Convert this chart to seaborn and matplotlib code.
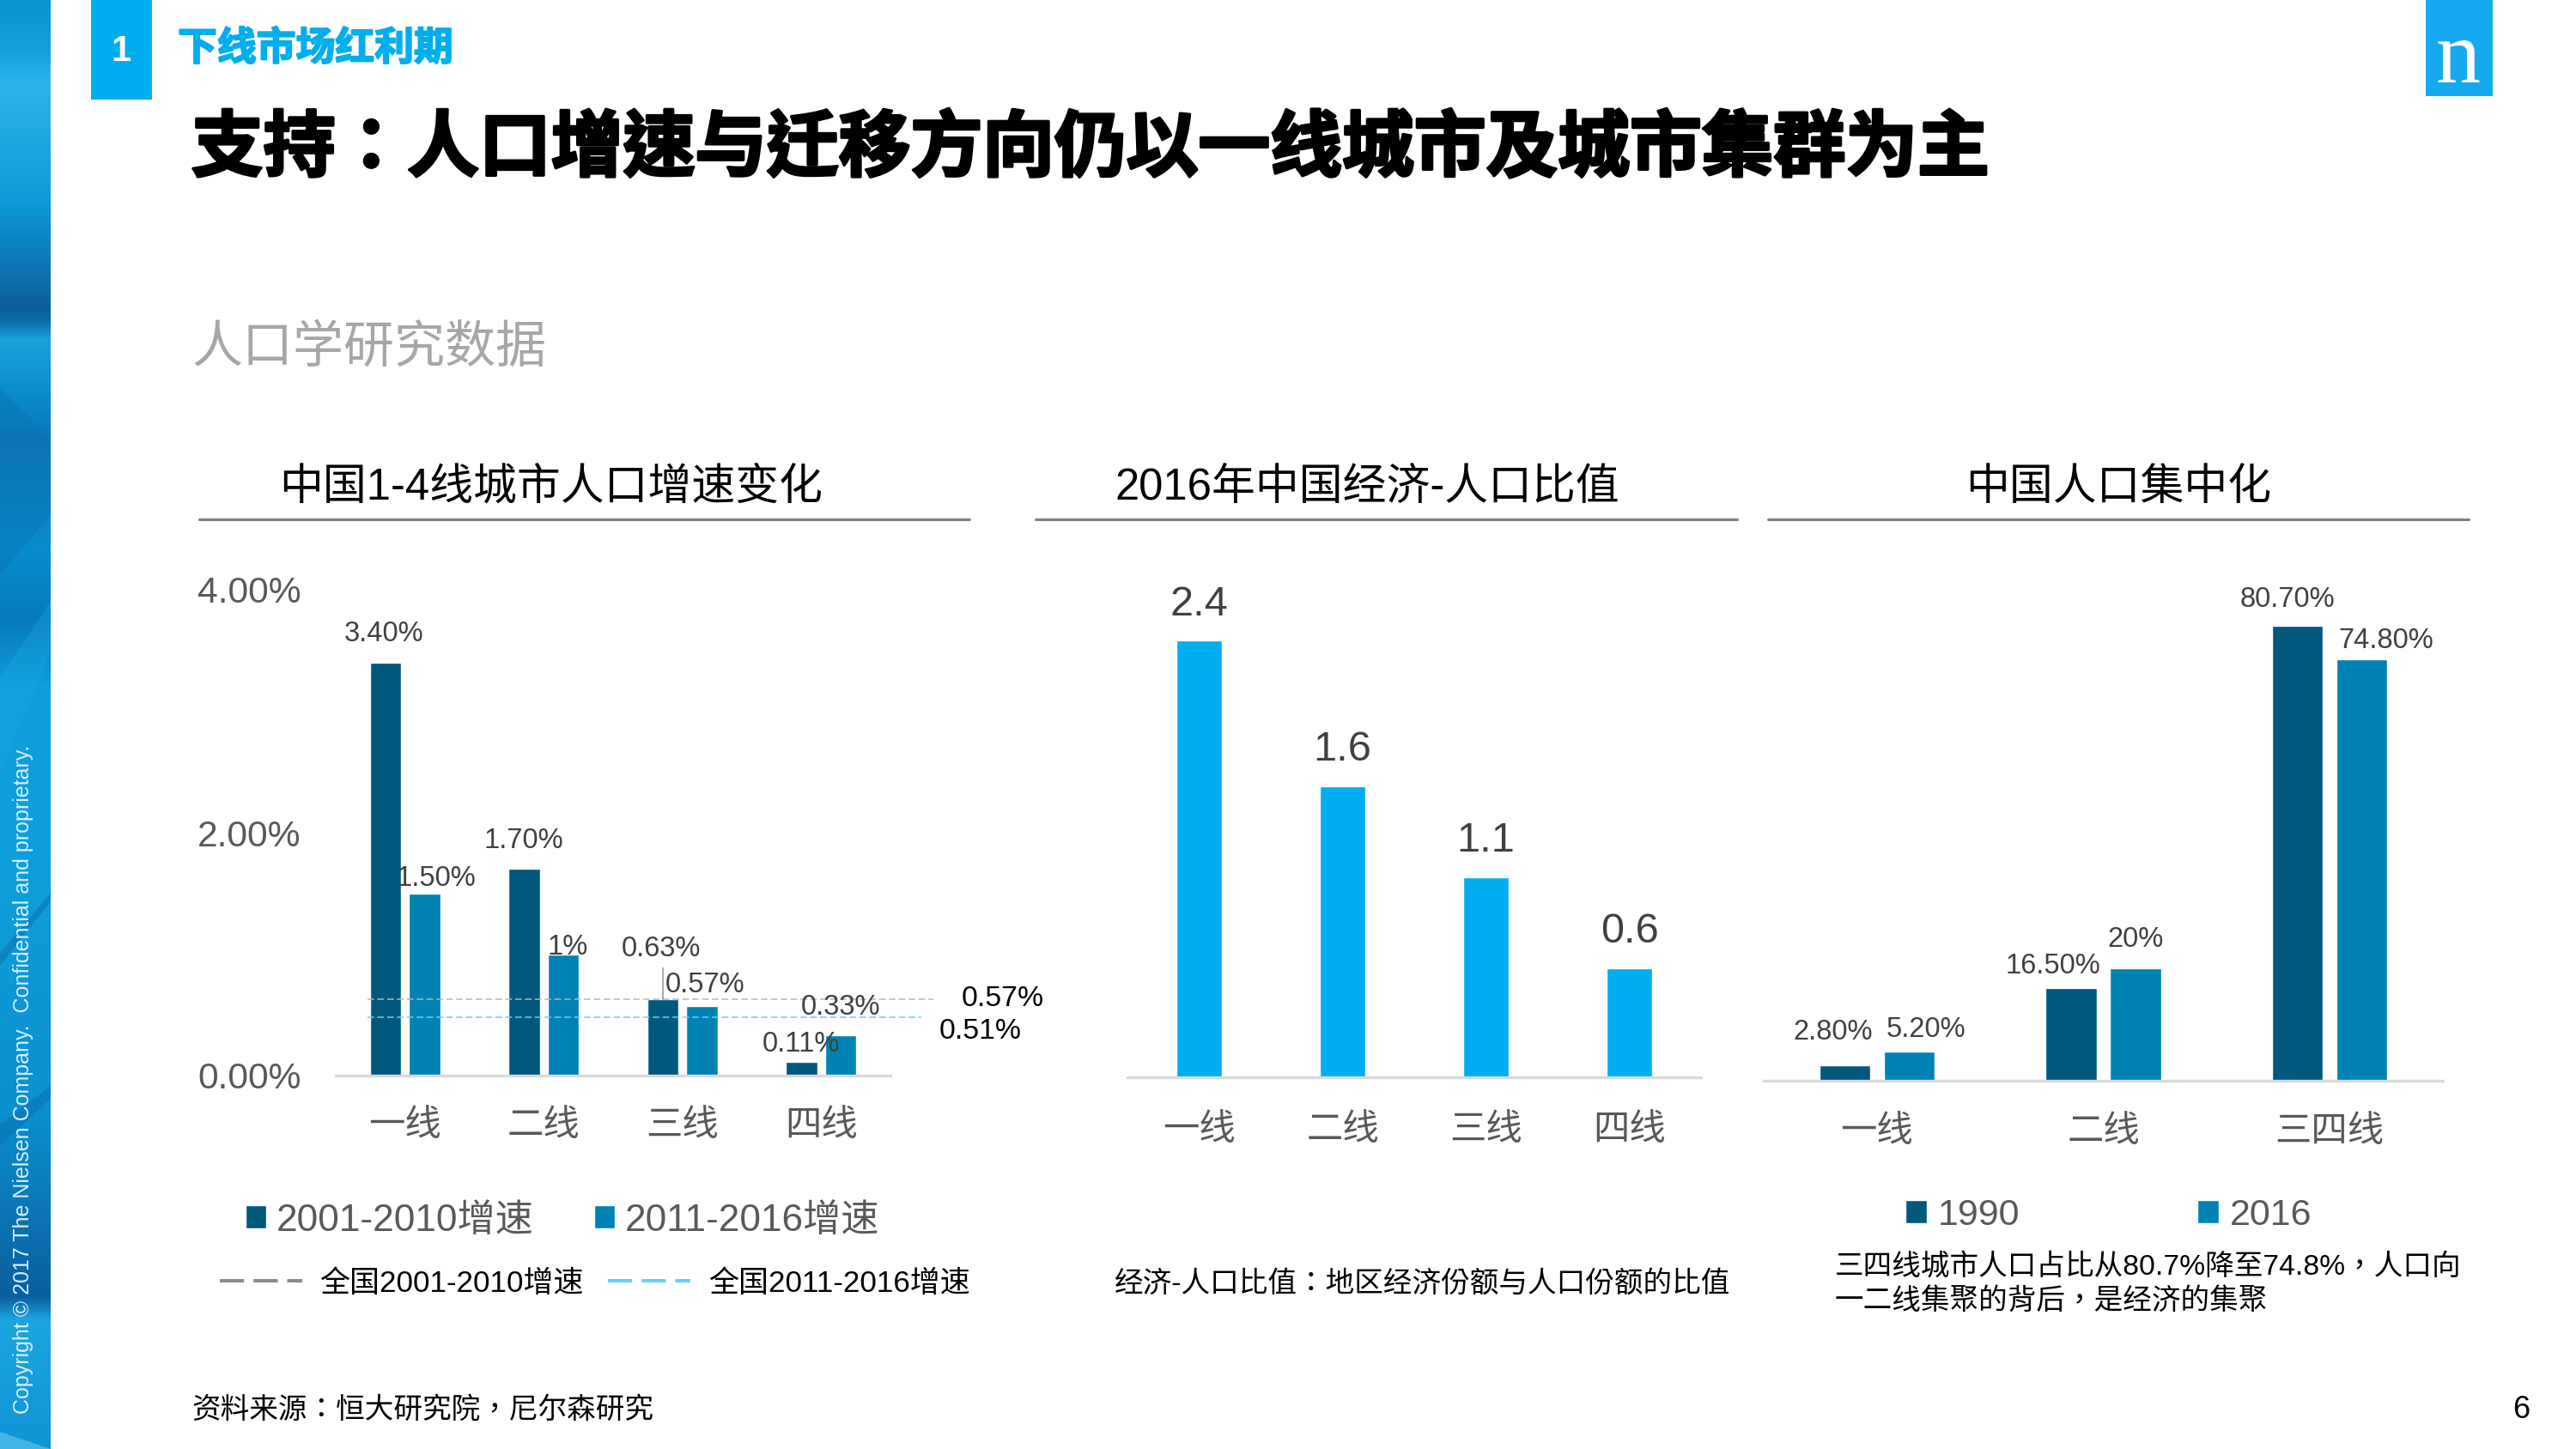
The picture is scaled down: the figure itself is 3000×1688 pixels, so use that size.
import numpy as np
import pandas as pd
import matplotlib
matplotlib.use("Agg")
import matplotlib.pyplot as plt
import matplotlib.patheffects as pe
from matplotlib.patches import Patch, Rectangle, Polygon
from matplotlib.lines import Line2D
import seaborn as sns

# ---------- data ----------
tiers4 = ["一线", "二线", "三线", "四线"]
tiers3 = ["一线", "二线", "三四线"]
growth_series = ["2001-2010增速", "2011-2016增速"]
growth_2001_2010 = [3.40, 1.70, 0.63, 0.11]
growth_2011_2016 = [1.50, 1.00, 0.57, 0.33]
growth_labels_a = ["3.40%", "1.70%", "0.63%", "0.11%"]
growth_labels_b = ["1.50%", "1%", "0.57%", "0.33%"]
growth_ticks = [0, 2, 4]
growth_ticklabels = ["0.00%", "2.00%", "4.00%"]
national_levels = [0.63, 0.48]
national_labels = ["0.57%", "0.51%"]
national_names = ["全国2001-2010增速", "全国2011-2016增速"]
ratio_values = [2.4, 1.6, 1.1, 0.6]
ratio_labels = ["2.4", "1.6", "1.1", "0.6"]
share_series = ["1990", "2016"]
share_1990 = [2.8, 16.5, 80.7]
share_2016 = [5.2, 20.0, 74.8]
share_labels_a = ["2.80%", "16.50%", "80.70%"]
share_labels_b = ["5.20%", "20%", "74.80%"]

# ---------- style ----------
DARK, MID, CYAN = "#00587c", "#0082b4", "#00aeef"
TICK, VAL = "#595959", "#404040"
LATIN_SC = ["Liberation Sans", "Noto Sans CJK SC"]
LATIN_TC = ["Liberation Sans", "Noto Sans CJK TC"]

sns.set_theme(style="white")
plt.rcParams["font.family"] = LATIN_SC
plt.rcParams["axes.unicode_minus"] = False

W, H = 3000, 1688
fig = plt.figure(figsize=(W / 100, H / 100), dpi=100, facecolor="white")


def txt(x, y, s, size, color="black", ha="left", va="center", **kw):
    return fig.text(x / W, 1 - y / H, s, fontsize=size, color=color, ha=ha, va=va, **kw)


def box(l, t, r, b):
    return fig.add_axes([l / W, 1 - b / H, (r - l) / W, (b - t) / H])


def frame(ax, n, ymax, pad):
    ax.set_xlim(-0.5, n - 0.5)
    ax.set_ylim(0, ymax)
    ax.set_xlabel("")
    ax.set_ylabel("")
    ax.patch.set_alpha(0)
    for k in ("top", "left", "right"):
        ax.spines[k].set_visible(False)
    ax.spines["bottom"].set_color("#d9d9d9")
    ax.spines["bottom"].set_linewidth(2.4)
    ax.tick_params(axis="x", length=0, pad=pad, labelsize=30.5, labelcolor=TICK)
    ax.tick_params(axis="y", length=0)
    ax.grid(False)


def note(ax, x, y, s, dx, dy, size=23.5, color=VAL):
    ax.annotate(s, xy=(x, y), xytext=(dx, dy - 4), textcoords="offset pixels",
                ha="center", va="center", fontsize=size, color=color, annotation_clip=False)


# ---------- left strip ----------
strip = fig.add_axes([0, 0, 59 / W, 1])
stops_y = [0, 55, 95, 230, 360, 373, 395, 445, 510, 640, 720, 800, 1000, 1300, 1510, 1537, 1688]
stops_c = ["#0c94d3", "#129fdc", "#2db3ea", "#0f9bdb", "#0b5f9b", "#0b6aa8", "#1ba2de", "#0e90cf",
           "#0a78bb", "#0a8cd0", "#0979be", "#0f9ede", "#0f9fdd", "#0c8fd0", "#0a5f9e", "#1ca5e1", "#1094d6"]
rgb = np.array([matplotlib.colors.to_rgb(c) for c in stops_c])
ys = np.arange(H)
grad = np.stack([np.interp(ys, stops_y, rgb[:, i]) for i in range(3)], axis=1)[:, None, :]
strip.imshow(grad, aspect="auto", extent=(0, 59, H, 0), interpolation="bilinear")
for pts, col, a in [
    ([(0, 452), (59, 511), (59, 600), (0, 670)], "#0a6fb0", 0.35),
    ([(0, 790), (59, 700), (59, 760), (0, 900)], "#19a9e6", 0.35),
    ([(0, 1110), (59, 1040), (59, 1050), (0, 1125)], "#0a6fb0", 0.5),
    ([(0, 1310), (59, 1265), (59, 1280), (0, 1335)], "#0a6fb0", 0.5),
    ([(0, 1668), (59, 1688), (0, 1688)], "#66c8f0", 0.6),
]:
    strip.add_patch(Polygon(pts, closed=True, facecolor=col, edgecolor="none", alpha=a))
strip.set_xlim(0, 59)
strip.set_ylim(H, 0)
strip.axis("off")
txt(27, 1647, "Copyright © 2017 The Nielsen Company.  Confidential and proprietary.", 18,
    color="#d5f0fb", ha="center", va="bottom", rotation=90)

# ---------- header ----------
fig.add_artist(Rectangle((106 / W, 1 - 116 / H), 71 / W, 116 / H, transform=fig.transFigure,
                         facecolor=CYAN, edgecolor="none"))
txt(141, 60, "1", 30, color="white", ha="center", fontweight="bold")
head = txt(207, 58, "下线市场红利期", 33, color=CYAN, fontweight="bold")
head.set_path_effects([pe.withStroke(linewidth=1.4, foreground=CYAN)])
title = txt(223, 175, "支持：人口增速与迁移方向仍以一线城市及城市集群为主", 60.3, fontweight="bold", family=LATIN_TC)
title.set_path_effects([pe.withStroke(linewidth=2.4, foreground="black")])
txt(223, 406, "人口学研究数据", 42.5, color="#a6a6a6", fontweight="light")
fig.add_artist(Rectangle((2825 / W, 1 - 112 / H), 78 / W, 112 / H, transform=fig.transFigure,
                         facecolor="#16a9ef", edgecolor="none"))
txt(2863, 96, "n", 75, color="white", ha="center", va="baseline", family="Liberation Serif")

# section titles and rules
for cx, s, a, b in [(642, "中国1-4线城市人口增速变化", 232, 1129),
                    (1592, "2016年中国经济-人口比值", 1206, 2023),
                    (2467, "中国人口集中化", 2059, 2875)]:
    txt(cx, 568, s, 36.6, ha="center")
    fig.add_artist(Line2D([a / W, b / W], [1 - 605 / H] * 2, transform=fig.transFigure,
                          color="#7f7f7f", lw=2.2))

# ---------- chart 1 ----------
ax1 = box(391, 687, 1037, 1253)
df1 = pd.DataFrame({
    "tier": tiers4 * 2,
    "series": [growth_series[0]] * 4 + [growth_series[1]] * 4,
    "value": growth_2001_2010 + growth_2011_2016,
})
sns.barplot(data=df1, x="tier", y="value", hue="series", palette=[DARK, MID], saturation=1,
            width=0.563, gap=0.187, legend=False, ax=ax1)
frame(ax1, 4, 4, 28)
ax1.set_yticks(growth_ticks, growth_ticklabels)
ax1.tick_params(axis="y", pad=29, labelsize=30.7, labelcolor=TICK)

off_a = [(-2, 37), (-1, 37), (-2, 62), (-1, 25)]
off_b = [(13, 21), (5, 12), (4, 29), (0, 37)]
conts = ax1.containers
for cont, labs, offs in [(conts[0], growth_labels_a, off_a), (conts[1], growth_labels_b, off_b)]:
    for bar, lab, (dx, dy) in zip(cont, labs, offs):
        note(ax1, bar.get_x() + bar.get_width() / 2, bar.get_height(), lab, dx, dy)

b3 = conts[0][2]
ax1.annotate("", xy=(b3.get_x() + b3.get_width() / 2, b3.get_height()), xytext=(0, 36),
             textcoords="offset pixels",
             arrowprops=dict(arrowstyle="-", color="#a6a6a6", lw=1.4, shrinkA=0, shrinkB=0))

line_style = (0, (5, 2.5))
ax1.plot([-0.271, 3.807], [national_levels[0]] * 2, color="#b5b5b5", lw=1.1, ls=line_style, clip_on=False)
ax1.plot([-0.271, 3.726], [national_levels[1]] * 2, color="#66d1f5", lw=1.1, ls=line_style, clip_on=False)
txt(1168, 1164, national_labels[0], 24.3, ha="center")
txt(1142, 1202, national_labels[1], 24.3, ha="center")

fig.legend(handles=[Patch(facecolor=DARK, label=growth_series[0]), Patch(facecolor=MID, label=growth_series[1])],
           loc="center left", bbox_to_anchor=(286 / W, 1 - 1422 / H), ncol=2, frameon=False,
           fontsize=31.8, labelcolor=TICK, handlelength=0.55, handleheight=0.56, handletextpad=0.27,
           columnspacing=1.58, borderpad=0, borderaxespad=0)
dash = (0, (7, 2.75))
fig.legend(handles=[Line2D([], [], color="#8c8c8c", lw=2.9, ls=dash, dash_capstyle="butt", label=national_names[0]),
                    Line2D([], [], color="#66d1f5", lw=2.9, ls=dash, dash_capstyle="butt", label=national_names[1])],
           loc="center left", bbox_to_anchor=(256 / W, 1 - 1495 / H), ncol=2, frameon=False,
           fontsize=25.2, labelcolor="black", handlelength=2.75, handletextpad=0.58,
           columnspacing=0.8, borderpad=0, borderaxespad=0)

# ---------- chart 2 ----------
ax2 = box(1313, 1255 - 212 * 2.6, 1981, 1255)
df2 = pd.DataFrame({"tier": tiers4, "value": ratio_values})
sns.barplot(data=df2, x="tier", y="value", color=CYAN, saturation=1, width=0.316, ax=ax2)
frame(ax2, 4, 2.6, 30)
ax2.set_yticks([])
for bar, lab in zip(ax2.containers[0], ratio_labels):
    note(ax2, bar.get_x() + bar.get_width() / 2, bar.get_height(), lab, 0, 46, size=35)
txt(1298, 1496, "经济-人口比值：地区经济份额与人口份额的比值", 24.2, family=LATIN_TC)

# ---------- chart 3 ----------
ax3 = box(2054, 1259 - 6.57 * 85, 2845, 1259)
df3 = pd.DataFrame({
    "tier": tiers3 * 2,
    "series": [share_series[0]] * 3 + [share_series[1]] * 3,
    "value": share_1990 + share_2016,
})
sns.barplot(data=df3, x="tier", y="value", hue="series", palette=[DARK, MID], saturation=1,
            width=0.569, gap=0.213, legend=False, ax=ax3)
frame(ax3, 3, 85, 29)
ax3.set_yticks([])
off_a3 = [(-14, 42), (-21, 29), (-12, 34)]
off_b3 = [(20, 29), (0, 37), (28, 25)]
for cont, labs, offs in [(ax3.containers[0], share_labels_a, off_a3), (ax3.containers[1], share_labels_b, off_b3)]:
    for bar, lab, (dx, dy) in zip(cont, labs, offs):
        note(ax3, bar.get_x() + bar.get_width() / 2, bar.get_height(), lab, dx, dy)
fig.legend(handles=[Patch(facecolor=DARK, label=share_series[0]), Patch(facecolor=MID, label=share_series[1])],
           loc="center left", bbox_to_anchor=(2219 / W, 1 - 1416 / H), ncol=2, frameon=False,
           fontsize=31, labelcolor=TICK, handlelength=0.58, handleheight=0.58, handletextpad=0.3,
           columnspacing=4.8, borderpad=0, borderaxespad=0)
txt(2137, 1476, "三四线城市人口占比从80.7%降至74.8%，人口向", 24.2, family=LATIN_TC)
txt(2137, 1516, "一二线集聚的背后，是经济的集聚", 24.2, family=LATIN_TC)

# ---------- footer ----------
txt(223, 1643, "资料来源：恒大研究院，尼尔森研究", 24.2, family=LATIN_TC)
txt(2936, 1643, "6", 26, ha="center")

fig.savefig("out.png", dpi=100, facecolor="white")
